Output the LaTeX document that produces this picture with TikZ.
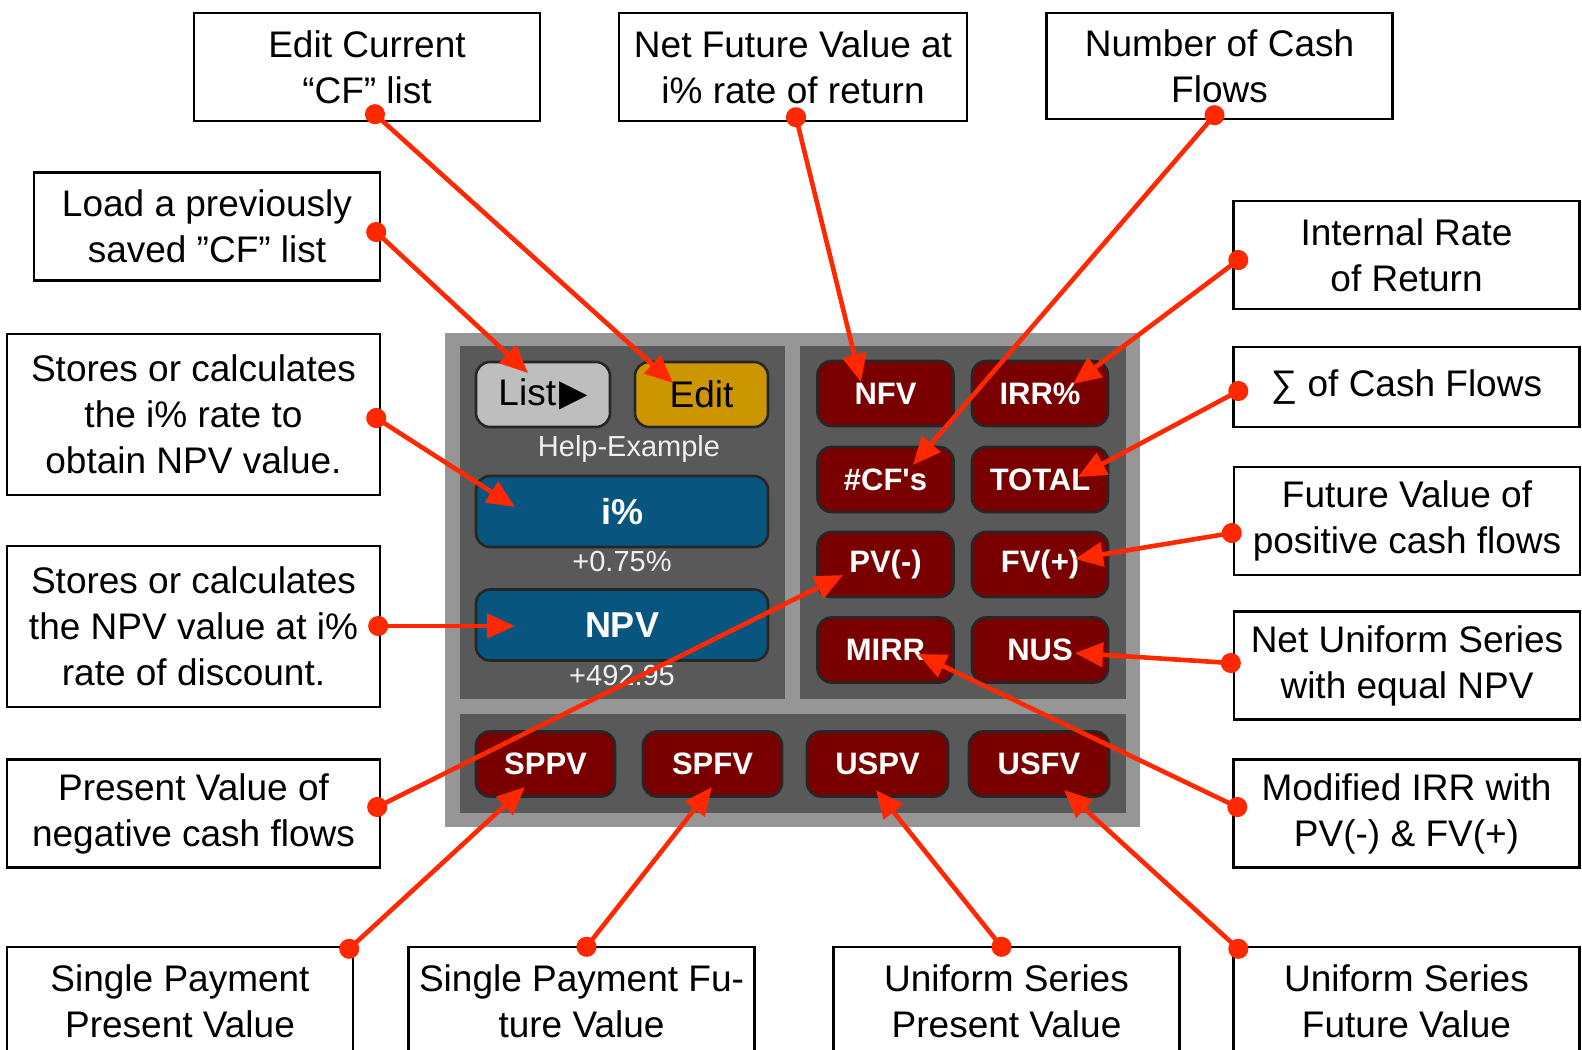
\documentclass[tikz,border=0pt]{standalone}
\usepackage{fontspec}
\setmainfont{Liberation Sans}
\newfontfamily\symfont{DejaVu Sans}
\usetikzlibrary{arrows.meta}

\definecolor{arrowred}{RGB}{255,40,0}
\definecolor{keyred}{RGB}{122,0,0}
\definecolor{keyblue}{RGB}{8,86,128}
\definecolor{keygold}{RGB}{204,150,0}
\definecolor{keygray}{RGB}{190,190,190}
\definecolor{panelgray}{RGB}{150,150,150}
\definecolor{paneldark}{RGB}{89,89,89}

\begin{document}
\begin{tikzpicture}[x=0.5pt, y=-0.5pt,
	note/.style={draw, line width=1.2pt, align=center, inner sep=0pt, minimum width=173pt, minimum height=54pt, font=\fontsize{18.5}{23}\selectfont},
	key/.style={draw=black!85, line width=1.3pt, rounded corners=7pt, fill=keyred, text=white, minimum width=68pt, minimum height=32.5pt, inner sep=0pt, font=\fontsize{15.5}{18}\selectfont\bfseries},
	bigkey/.style={key, fill=keyblue, minimum width=146pt, minimum height=35.5pt, font=\fontsize{18}{20}\selectfont\bfseries},
	caption/.style={text=white!94!black, font=\fontsize{14.5}{17}\selectfont},
	pointer/.style={draw=arrowred, line width=2.3pt, {Circle[length=10pt]}-{Triangle[length=14pt,width=12pt]}, shorten <=-5pt}]
	\useasboundingbox (0,0) rectangle (1582,1049);

	% keypad
	\fill[panelgray] (445,333) rectangle (1140,827);
	\fill[paneldark] (460,346) rectangle (785,699);
	\fill[paneldark] (800,346) rectangle (1126,699);
	\fill[paneldark] (460,714) rectangle (1126,813);

	\node[key, fill=keygray, text=black, minimum width=67pt, font=\fontsize{18.5}{20}\selectfont] (list) at (543,394.5) {List\kern1.5pt{\symfont ▶}};
	\node[key, fill=keygold, text=black, minimum width=66.5pt, font=\fontsize{18.5}{20}\selectfont] (edit) at (701.5,394.5) {Edit};
	\node[caption] (help) at (629,449) {Help-Example};
	\node[bigkey] (rate) at (622,511.5) {i\%};
	\node[caption] (rateval) at (622,562) {+0.75\%};
	\node[bigkey] (npv) at (622,625) {NPV};
	\node[caption] (npvval) at (622,676) {+492.95};

	\node[key] (nfv) at (885.5,393.5) {NFV};
	\node[key] (irr) at (1040,393.5) {IRR\%};
	\node[key] (cfs) at (885.5,479.5) {\#CF\textquotesingle s};
	\node[key] (total) at (1040,479.5) {TOTAL};
	\node[key] (pv) at (885.5,564.5) {PV(-)};
	\node[key] (fv) at (1040,564.5) {FV(+)};
	\node[key] (mirr) at (885.5,650) {MIRR};
	\node[key] (nus) at (1040,650) {NUS};

	\node[key, minimum width=69.5pt] (sppv) at (545.5,764) {SPPV};
	\node[key, minimum width=69.5pt] (spfv) at (712.5,764) {SPFV};
	\node[key, minimum width=70.5pt] (uspv) at (877.5,764) {USPV};
	\node[key, minimum width=70pt] (usfv) at (1039,764) {USFV};

	% explanations
	\node[note] (curnote) at (367,67) {Edit Current\\“CF” list};
	\node[note, minimum width=174pt] (nfvnote) at (793,67) {Net Future Value at\\i\% rate of return};
	\node[note, minimum height=53pt] (cfsnote) at (1219.5,66) {Number of Cash\\Flows};
	\node[note] (loadnote) at (207,226.5) {Load a previously\\saved ”CF” list};
	\node[note] (irrnote) at (1406.5,255) {Internal Rate\\of Return};
	\node[note, minimum width=186.5pt, minimum height=80.5pt] (ratenote) at (193.5,414.5) {Stores or calculates\\the i\% rate to\\obtain NPV value.};
	\node[note, minimum height=40pt] (totalnote) at (1406.5,387) {∑ of Cash Flows};
	\node[note] (fvnote) at (1407,521) {Future Value of\\positive cash flows};
	\node[note, minimum width=186.5pt, minimum height=80.5pt] (npvnote) at (193.5,626.5) {Stores or calculates\\the NPV value at i\%\\rate of discount.};
	\node[note] (nusnote) at (1407,665.5) {Net Uniform Series\\with equal NPV};
	\node[note, minimum width=186.5pt] (pvnote) at (193.5,813.5) {Present Value of\\negative cash flows};
	\node[note] (mirrnote) at (1406.5,813.5) {Modified IRR with\\PV(-) \& FV(+)};
	\node[note] (sppvnote) at (180,1001) {Single Payment\\Present Value};
	\node[note] (spfvnote) at (581.5,1001) {Single Payment Fu-\\ture Value};
	\node[note] (uspvnote) at (1006.5,1001) {Uniform Series\\Present Value};
	\node[note] (usfvnote) at (1406.5,1001) {Uniform Series\\Future Value};

	% pointers
	\draw[pointer] ([shift={(8,-8)}]curnote.south) -- ([shift={(-28.5,-11.5)}]edit.center);
	\draw[pointer] ([shift={(-5,5.5)}]loadnote.east) -- ([shift={(-15,-21.5)}]list.center);
	\draw[pointer] ([shift={(-5,3.5)}]ratenote.east) -- ([shift={(-107,-4.5)}]rate.center);
	\draw[pointer] ([shift={(-3,-0.5)}]npvnote.east) -- ([shift={(-107,1)}]npv.center);
	\draw[pointer] ([shift={(-4,-6.5)}]pvnote.east) -- ([shift={(-42.5,10.5)}]pv.center);
	\draw[pointer] ([shift={(3,-5)}]nfvnote.south) -- ([shift={(-24.5,-11.5)}]nfv.center);
	\draw[pointer] ([shift={(-5,-5)}]cfsnote.south) -- ([shift={(27.5,-14.5)}]cfs.center);
	\draw[pointer] ([shift={(6,5)}]irrnote.west) -- ([shift={(33,-9.5)}]irr.center);
	\draw[pointer] ([shift={(6,4)}]totalnote.west) -- ([shift={(38,-2.5)}]total.center);
	\draw[pointer] ([shift={(-1,12)}]fvnote.west) -- ([shift={(35,-5.5)}]fv.center);
	\draw[pointer] ([shift={(-2,-2.5)}]nusnote.west) -- ([shift={(35,3)}]nus.center);
	\draw[pointer] ([shift={(5,-6.5)}]mirrnote.west) -- ([shift={(32.5,4)}]mirr.center);
	\draw[pointer] ([shift={(-5,3)}]sppvnote.north east) -- ([shift={(-20.5,23)}]sppv.center);
	\draw[pointer] ([shift={(5,1)}]spfvnote.north) -- ([shift={(-0.5,23)}]spfv.center);
	\draw[pointer] ([shift={(-5,1)}]uspvnote.north) -- ([shift={(-1.5,26)}]uspv.center);
	\draw[pointer] ([shift={(6,3)}]usfvnote.north west) -- ([shift={(25,26)}]usfv.center);
\end{tikzpicture}
\end{document}
